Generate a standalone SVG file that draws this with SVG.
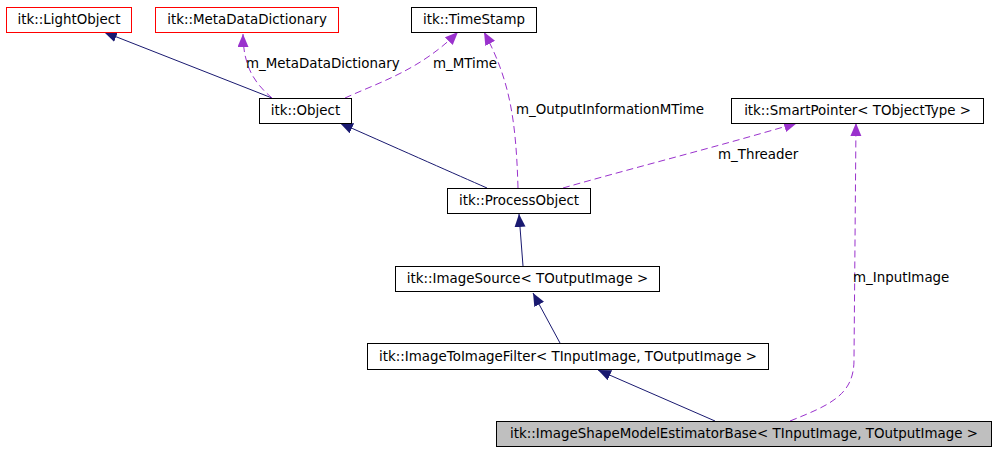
<svg xmlns="http://www.w3.org/2000/svg" width="995" height="451" viewBox="0 0 995 451">
<style>
.node rect{fill:#fff;stroke:#000;stroke-width:1}
.node.red rect{stroke:#ff0000}
.node.cur rect{fill:#bfbfbf}
text{font-family:"DejaVu Sans","Liberation Sans",sans-serif;font-size:13.4px;fill:#000}
.node text{text-anchor:middle}
.inh{fill:none;stroke:#191970;stroke-width:1}
.use{fill:none;stroke:#9a32cd;stroke-width:1;stroke-dasharray:7,4}
</style>
<defs>
<marker id="ah-blue" markerUnits="userSpaceOnUse" markerWidth="14" markerHeight="12" refX="13" refY="5.5" orient="auto">
<path d="M0,0 L13,5.5 L0,11 z" fill="#191970"/>
</marker>
<marker id="ah-purple" markerUnits="userSpaceOnUse" markerWidth="14" markerHeight="12" refX="13" refY="5.5" orient="auto">
<path d="M0,0 L13,5.5 L0,11 z" fill="#9a32cd"/>
</marker>
</defs>
<rect width="995" height="451" fill="#fff"/>
<g id="connectors">
<path class="inh" marker-end="url(#ah-blue)" d="M272,98 L104,32"/>
<path class="inh" marker-end="url(#ah-blue)" d="M487,188 C455,174 410,154 340,123"/>
<path class="inh" marker-end="url(#ah-blue)" d="M523,266 L519,214"/>
<path class="inh" marker-end="url(#ah-blue)" d="M560,343 L533,293"/>
<path class="inh" marker-end="url(#ah-blue)" d="M715,421 L598,370"/>
<path class="use" marker-end="url(#ah-purple)" d="M272,98 C258,86 243,70 243,34"/>
<path class="use" marker-end="url(#ah-purple)" d="M345,98 C380,82 420,70 458,32"/>
<path class="use" marker-end="url(#ah-purple)" d="M518,188 C516,120 510,80 484,32"/>
<path class="use" marker-end="url(#ah-purple)" d="M563,188 C640,166 720,146 797,123"/>
<path class="use" marker-end="url(#ah-purple)" d="M790,421 C830,405 854,395 854,360 L856,123"/>
<text x="246" y="68">m_MetaDataDictionary</text>
<text x="433" y="68">m_MTime</text>
<text x="516" y="114">m_OutputInformationMTime</text>
<text x="718" y="159">m_Threader</text>
<text x="853" y="282">m_InputImage</text>
</g>
<g id="n-lightobject" class="node red"><rect x="6.5" y="7.5" width="125" height="25"/><text x="69" y="24">itk::LightObject</text></g>
<g id="n-metadatadictionary" class="node red"><rect x="155.5" y="7.5" width="183" height="25"/><text x="247" y="24">itk::MetaDataDictionary</text></g>
<g id="n-timestamp" class="node"><rect x="411.5" y="7.5" width="125" height="25"/><text x="474" y="24">itk::TimeStamp</text></g>
<g id="n-object" class="node"><rect x="259.5" y="98.5" width="92" height="25"/><text x="305.5" y="115">itk::Object</text></g>
<g id="n-smartpointer" class="node"><rect x="731.5" y="98.5" width="252" height="25"/><text x="857.5" y="115">itk::SmartPointer&lt; TObjectType &gt;</text></g>
<g id="n-processobject" class="node"><rect x="447.5" y="188.5" width="143" height="25"/><text x="519" y="205">itk::ProcessObject</text></g>
<g id="n-imagesource" class="node"><rect x="395.5" y="266.5" width="264" height="25"/><text x="527.5" y="283">itk::ImageSource&lt; TOutputImage &gt;</text></g>
<g id="n-imagetoimagefilter" class="node"><rect x="367.5" y="343.5" width="401" height="26"/><text x="568" y="361">itk::ImageToImageFilter&lt; TInputImage, TOutputImage &gt;</text></g>
<g id="n-estimatorbase" class="node cur"><rect x="496.5" y="421.5" width="495" height="25"/><text x="744" y="438">itk::ImageShapeModelEstimatorBase&lt; TInputImage, TOutputImage &gt;</text></g>
</svg>
